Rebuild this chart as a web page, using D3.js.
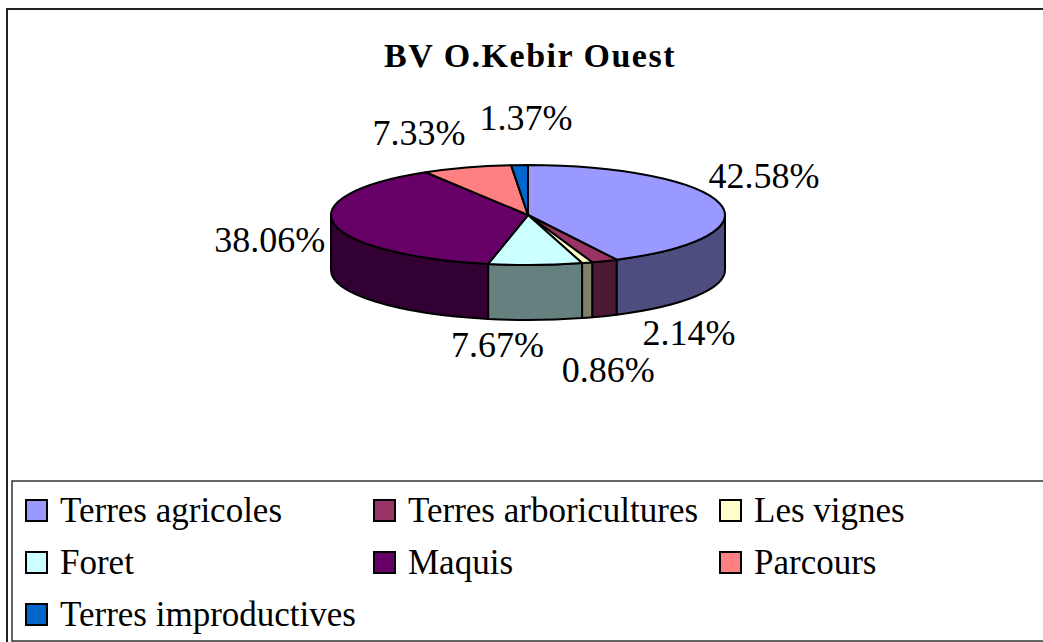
<!DOCTYPE html>
<html lang="fr">
<head>
<meta charset="UTF-8">
<title>BV O.Kebir Ouest</title>
<script src="https://d3js.org/d3.v7.min.js"></script>
<style>
  body { margin: 0; background: #fff; }
  svg { display: block; font-family: "Liberation Serif", "Times New Roman", serif; }
</style>
</head>
<body>
<svg width="1043" height="642"></svg>
<script>
const categories = ["Terres agricoles", "Terres arboricultures", "Les vignes", "Foret", "Maquis", "Parcours", "Terres improductives"];
const values = [42.58, 2.14, 0.86, 7.67, 38.06, 7.33, 1.37];
const labels = ["42.58%", "2.14%", "0.86%", "7.67%", "38.06%", "7.33%", "1.37%"];
const colors = ["#9999FF", "#993366", "#FFFFCC", "#CCFFFF", "#660066", "#FF8080", "#0066CC"];

// manual nudges for the data labels (label layout only)
const labelNudge = [[-14, -20], [61, -5], [3, 27], [-40, -4], [-5, 3], [-29, -5], [9, -16]];

const svg = d3.select("svg");
const cx = 528, cy = 215, rx = 197, ry = 50, depth = 55;

// outer frame and title
svg.append("rect").attr("x", 7).attr("y", 9).attr("width", 1100).attr("height", 700)
  .attr("fill", "#fff").attr("stroke", "#222").attr("stroke-width", 2);

svg.append("text").attr("x", 530).attr("y", 67).attr("text-anchor", "middle")
  .attr("font-size", 34).attr("font-weight", "bold").attr("letter-spacing", 1.5)
  .text("BV O.Kebir Ouest");

const pie = d3.pie().sort(null).value(d => d)(values);
const pt = (a, dy = 0) => [cx + rx * Math.sin(a), cy - ry * Math.cos(a) + dy];
const sideColor = c => { const r = d3.rgb(c); return d3.rgb(r.r / 2, r.g / 2, r.b / 2).toString(); };

const g = svg.append("g");

// side walls (front half: angles between PI/2 and 3PI/2)
pie.forEach((d, i) => {
  const a0 = Math.max(d.startAngle, Math.PI / 2);
  const a1 = Math.min(d.endAngle, 3 * Math.PI / 2);
  if (a1 <= a0) return;
  const p0 = pt(a0), p1 = pt(a1), q1 = pt(a1, depth), q0 = pt(a0, depth);
  const large = a1 - a0 > Math.PI ? 1 : 0;
  const path = `M${p0[0]},${p0[1]} A${rx},${ry} 0 ${large} 1 ${p1[0]},${p1[1]}` +
    ` L${q1[0]},${q1[1]} A${rx},${ry} 0 ${large} 0 ${q0[0]},${q0[1]} Z`;
  g.append("path").attr("d", path).attr("fill", sideColor(colors[i]))
    .attr("stroke", "#000").attr("stroke-width", 2).attr("stroke-linejoin", "round");
});

// top faces
pie.forEach((d, i) => {
  const p0 = pt(d.startAngle), p1 = pt(d.endAngle);
  const large = d.endAngle - d.startAngle > Math.PI ? 1 : 0;
  const path = `M${cx},${cy} L${p0[0]},${p0[1]} A${rx},${ry} 0 ${large} 1 ${p1[0]},${p1[1]} Z`;
  g.append("path").attr("d", path).attr("fill", colors[i])
    .attr("stroke", "#000").attr("stroke-width", 2).attr("stroke-linejoin", "round");
});

// data labels
pie.forEach((d, i) => {
  const m = (d.startAngle + d.endAngle) / 2;
  const x = cx + (rx + 60) * Math.sin(m) + labelNudge[i][0];
  const y = cy - (ry + 30) * Math.cos(m) + depth * Math.max(0, -Math.cos(m)) + labelNudge[i][1];
  svg.append("text").attr("x", x).attr("y", y + 11).attr("text-anchor", "middle")
    .attr("font-size", 36).attr("fill", "#000").text(labels[i]);
});

// legend
svg.append("rect").attr("x", 12).attr("y", 481).attr("width", 1100).attr("height", 160)
  .attr("fill", "#fff").attr("stroke", "#333").attr("stroke-width", 1.5);

const colX = [26, 374, 720];
const legend = svg.append("g").selectAll("g").data(categories).join("g")
  .attr("transform", (d, i) => `translate(${colX[i % 3]},${500 + Math.floor(i / 3) * 52})`);
legend.append("rect").attr("width", 21).attr("height", 21)
  .attr("fill", (d, i) => colors[i]).attr("stroke", "#000").attr("stroke-width", 2);
legend.append("text").attr("x", 34).attr("y", 22).attr("font-size", 35).text(d => d);
</script>
</body>
</html>
